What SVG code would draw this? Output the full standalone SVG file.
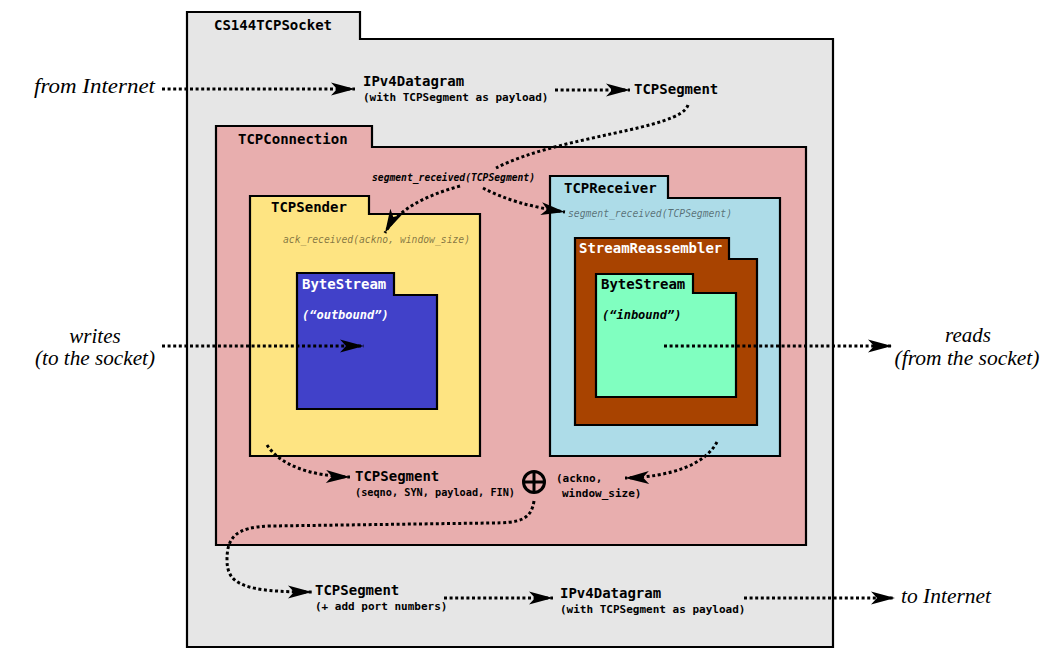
<svg xmlns="http://www.w3.org/2000/svg" width="1061" height="669" viewBox="0 0 1061 669">
<style>
.box{stroke:#000;stroke-width:2.2;stroke-linejoin:miter}
.title{font-family:"DejaVu Sans Mono",monospace;font-weight:bold;font-size:14px}
.sub{font-family:"DejaVu Sans Mono",monospace;font-weight:bold;font-size:11px}
.it{font-family:"DejaVu Sans Mono",monospace;font-weight:bold;font-style:italic;font-size:12px}
.gray{font-family:"DejaVu Sans Mono",monospace;font-style:italic;font-size:10px;fill:#000;fill-opacity:0.5}
.lbl{font-family:"DejaVu Sans Mono",monospace;font-style:italic;font-weight:bold;font-size:10px;fill:#000}
.serif{font-family:"Liberation Serif",serif;font-style:italic;font-size:21px}
.dot{fill:none;stroke:#000;stroke-width:3;stroke-dasharray:3 2.6;marker-end:url(#ah)}
</style>
<defs>
<marker id="ah" markerUnits="userSpaceOnUse" markerWidth="26" markerHeight="14" refX="24" refY="6.5" orient="auto" overflow="visible">
<path d="M0,0 L24,6.5 L0,13 L6,6.5 Z" fill="#000"/>
</marker>
</defs>
<rect width="1061" height="669" fill="#fff"/>

<g id="cs144tcpsocket">
<path class="box" fill="#E6E6E6" d="M187,39 L187,12 L360,12 L360,39 L833,39 L833,647 L187,647 Z"/>
<text class="title" x="214" y="30">CS144TCPSocket</text>
</g>

<g id="tcpconnection">
<path class="box" fill="#E8AEAE" d="M216,147 L216,126 L372,126 L372,147 L806,147 L806,545 L216,545 Z"/>
<text class="title" x="238" y="144">TCPConnection</text>
</g>

<g id="tcpsender">
<path class="box" fill="#FEE482" d="M250,214 L250,196 L369,196 L369,214 L480,214 L480,456 L250,456 Z"/>
<text class="title" x="271" y="212">TCPSender</text>
<text class="gray" x="283" y="243" textLength="187" lengthAdjust="spacingAndGlyphs">ack_received(ackno, window_size)</text>
</g>

<g id="bytestream-outbound">
<path class="box" fill="#4141C9" d="M297,295 L297,273 L394,273 L394,295 L437,295 L437,409 L297,409 Z"/>
<text class="title" x="302" y="289" fill="#fff">ByteStream</text>
<text class="it" x="302" y="319" fill="#fff">(“outbound”)</text>
</g>

<g id="tcpreceiver">
<path class="box" fill="#ADDCE8" d="M550,198 L550,176 L668,176 L668,198 L780,198 L780,456 L550,456 Z"/>
<text class="title" x="564" y="193">TCPReceiver</text>
<text class="gray" x="568" y="217" textLength="164" lengthAdjust="spacingAndGlyphs">segment_received(TCPSegment)</text>
</g>

<g id="streamreassembler">
<path class="box" fill="#A84300" d="M575,259 L575,238 L729,238 L729,259 L757,259 L757,425 L575,425 Z"/>
<text class="title" x="579" y="253" fill="#fff">StreamReassembler</text>
</g>

<g id="bytestream-inbound">
<path class="box" fill="#80FFC0" d="M596,293 L596,274 L693,274 L693,293 L736,293 L736,397 L596,397 Z"/>
<text class="title" x="601" y="289">ByteStream</text>
<text class="it" x="602" y="319">(“inbound”)</text>
</g>

<g id="labels">
<text class="serif" x="34" y="93" textLength="121" lengthAdjust="spacingAndGlyphs">from Internet</text>
<text class="serif" x="95" y="343" text-anchor="middle">writes</text>
<text class="serif" x="95" y="365" text-anchor="middle" textLength="120" lengthAdjust="spacingAndGlyphs">(to the socket)</text>
<text class="serif" x="968" y="342" text-anchor="middle">reads</text>
<text class="serif" x="967" y="365" text-anchor="middle" textLength="145" lengthAdjust="spacingAndGlyphs">(from the socket)</text>
<text class="serif" x="901" y="603" textLength="90" lengthAdjust="spacingAndGlyphs">to Internet</text>

<text class="title" x="363" y="86">IPv4Datagram</text>
<text class="sub" x="363" y="101">(with TCPSegment as payload)</text>
<text class="title" x="634" y="94">TCPSegment</text>

<text class="lbl" x="372" y="181" textLength="163" lengthAdjust="spacingAndGlyphs">segment_received(TCPSegment)</text>

<text class="title" x="355" y="481">TCPSegment</text>
<text class="sub" x="355" y="496" textLength="160" lengthAdjust="spacingAndGlyphs">(seqno, SYN, payload, FIN)</text>
<text class="sub" x="556" y="482">(ackno,</text>
<text class="sub" x="562" y="497">window_size)</text>

<text class="title" x="315" y="595">TCPSegment</text>
<text class="sub" x="315" y="610">(+ add port numbers)</text>
<text class="title" x="560" y="598">IPv4Datagram</text>
<text class="sub" x="560" y="613">(with TCPSegment as payload)</text>
</g>

<g id="oplus" fill="none" stroke="#000" stroke-width="3">
<circle cx="534" cy="482" r="10.5"/>
<line x1="523.5" y1="482" x2="544.5" y2="482"/>
<line x1="534" y1="471.5" x2="534" y2="492.5"/>
</g>

<g id="connectors">
<path class="dot" d="M162,89 L355,89"/>
<path class="dot" d="M555,90 L630,90"/>
<path class="dot" d="M688,105 C680,130 560,135 496,168" style="marker-end:none"/>
<path class="dot" d="M460,186 C428,195 398,208 385,233"/>
<path class="dot" d="M483,188 Q515,205 565,212"/>
<path class="dot" d="M162,346 L364,346"/>
<path class="dot" d="M664,346 L892,346"/>
<path class="dot" d="M267,445 C280,465 310,476 350,477"/>
<path class="dot" d="M717,442 C705,465 670,477 625,478"/>
<path class="dot" d="M534,501 C531,520 520,523 490,523 L270,526 C235,527 227,538 227,560 C227,585 245,592 312,592"/>
<path class="dot" d="M444,598 L553,598"/>
<path class="dot" d="M744,598 L895,598"/>
</g>
</svg>
